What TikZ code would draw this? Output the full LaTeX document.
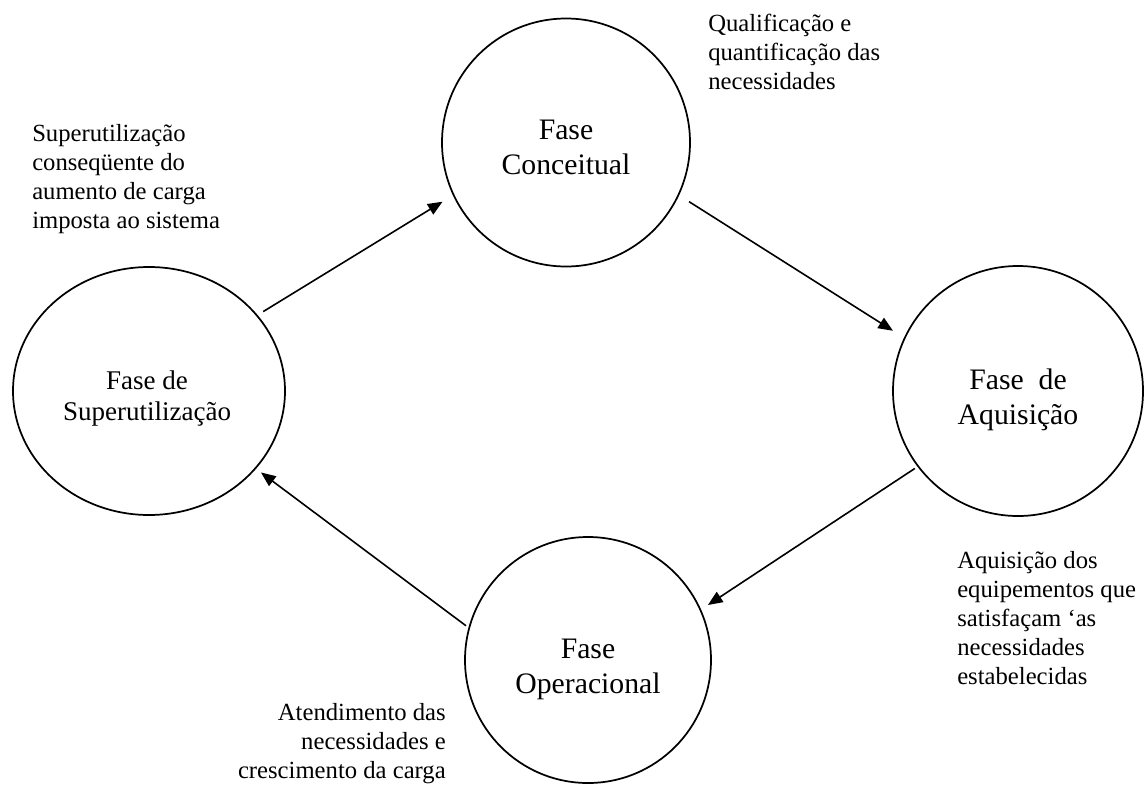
\documentclass[tikz,border=0pt]{standalone}
\usepackage{fontspec}
\setmainfont{Liberation Serif}
\usetikzlibrary{shapes.geometric,arrows.meta}
\begin{document}
\begin{tikzpicture}[x=0.75pt,y=-0.75pt,
  phase/.style={draw,circle,line width=1.3pt,minimum size=186pt,inner sep=0pt,outer sep=0pt},
  phasetext/.style={align=center,font=\fontsize{22.3pt}{26.25pt}\selectfont,inner sep=0pt},
  note/.style={align=left,font=\fontsize{18.5pt}{21.75pt}\selectfont,inner sep=0pt},
  flow/.style={-{Triangle[length=11pt,width=9pt]},line width=1.2pt}]
\useasboundingbox (0,0) rectangle (1145,785);

% the four phases of the cycle
\node[phase] (con) at (566,142.5) {};
\node[phase,ellipse,minimum width=204pt,minimum height=186pt] (sup) at (149,391) {};
\node[phase,minimum size=187.5pt] (acq) at (1018,391) {};
\node[phase,minimum size=184.5pt] (op) at (588,660) {};

\node[phasetext] (conT) at (566,147.7) {Fase\\Conceitual};
\node[phasetext,font=\fontsize{20.25pt}{23.25pt}\selectfont] (supT) at (147,399) {Fase de\\Superutilização};
\node[phasetext] (acqT) at (1018,399.6) {Fase~ de\\Aquisição};
\node[phasetext] (opT) at (588,669) {Fase\\Operacional};

% transitions
\draw[flow,shorten <=5.6pt,shorten >=9.75pt] (sup.35.6) -- (con.205.3);
\draw[flow,shorten <=9.5pt,shorten >=10.4pt] (con.335.1) -- (acq.155.45);
\draw[flow,shorten <=3pt,shorten >=6.75pt] (acq.217.8) -- (op.24.6);
\draw[flow,shorten <=3pt,shorten >=5.25pt] (op.165.4) -- (sup.324.7);

% descriptions of each transition
\node[note,anchor=north west] (n1) at (708,14) {Qualificação e\\quantificação das\\necessidades};
\node[note,anchor=north west] (n2) at (32,124) {Superutilização\\conseqüente do\\aumento de carga\\imposta ao sistema};
\node[note,anchor=north west] (n3) at (957,551) {Aquisição dos\\equipementos que\\satisfaçam ‘as\\necessidades\\estabelecidas};
\node[note,align=right,anchor=north east] (n4) at (446,703) {Atendimento das\\necessidades e\\crescimento da carga};
\end{tikzpicture}
\end{document}
